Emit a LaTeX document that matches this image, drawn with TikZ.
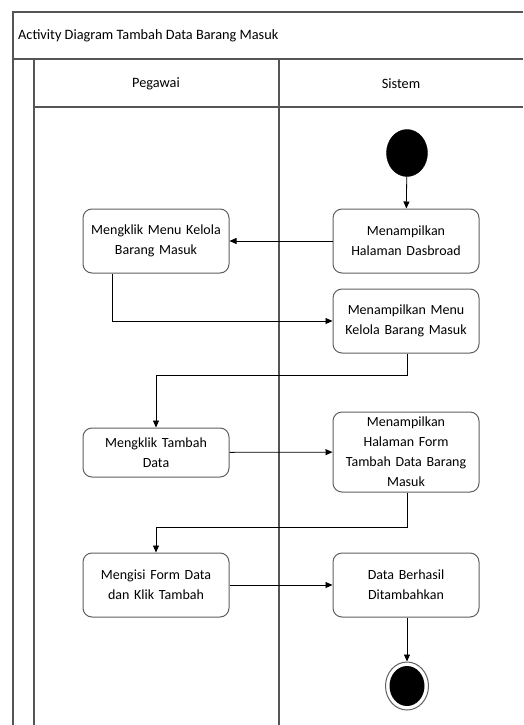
\documentclass[tikz,border=0pt]{standalone}
\usepackage{fontspec}
\setmainfont{Carlito}
\usetikzlibrary{arrows.meta,shapes.geometric}
\definecolor{frame}{HTML}{555555}
\definecolor{boxline}{HTML}{606060}
\begin{document}
\begin{tikzpicture}[x=1pt,y=-1pt,
  frameline/.style={draw=frame,line width=1.6pt},
  act/.style={draw=boxline,line width=1pt,rounded corners=9pt,minimum width=146pt,
    text width=142pt,align=center,font=\fontsize{14}{20}\selectfont,inner sep=2pt,fill=white},
  flow/.style={draw=black,line width=0.8pt,-{Triangle[length=7pt,width=6pt]}},
  lbl/.style={font=\fontsize{14.3}{16}\selectfont,inner sep=0pt}]
\useasboundingbox (0,0) rectangle (523,725);
\fill[white] (0,0) rectangle (523,725);
% frame
\draw[frameline] (523,12) -- (13,12) -- (13,725);
\draw[frameline] (13,59) -- (523,59);
\draw[frameline] (34,59) -- (34,725);
\draw[frameline] (34,107) -- (523,107);
\draw[frameline] (279,59) -- (279,725);
\node[lbl,anchor=west] (title) at (18,36) {Activity Diagram Tambah Data Barang Masuk};
\node[lbl] (pegawai) at (156,84) {Pegawai};
\node[lbl] (sistem) at (401,84) {Sistem};
% start
\node[draw=black,fill=black,ellipse,minimum width=41pt,minimum height=47pt,inner sep=0pt] (start) at (407,153) {};
% activities
\node[act,minimum height=64pt] (s1) at (406,241) {Menampilkan\\Halaman Dasbroad};
\node[act,minimum height=64pt] (p1) at (156,241) {Mengklik Menu Kelola\\Barang Masuk};
\node[act,minimum height=64pt] (s2) at (406,321) {Menampilkan Menu\\Kelola Barang Masuk};
\node[act,minimum height=49pt] (p2) at (156,452.5) {Mengklik Tambah\\Data};
\node[act,minimum height=80pt] (s3) at (406,452) {Menampilkan\\Halaman Form\\Tambah Data Barang\\Masuk};
\node[act,minimum height=64pt] (p3) at (156,585) {Mengisi Form Data\\dan Klik Tambah};
\node[act,minimum height=64pt] (s4) at (406,585) {Data Berhasil\\Ditambahkan};
% end
\node[draw=boxline,line width=1pt,ellipse,minimum width=43pt,minimum height=48pt,inner sep=0pt] (end) at (407,686) {};
\node[fill=black,ellipse,minimum width=35pt,minimum height=40pt,inner sep=0pt] (endin) at (407,686) {};
% flows
\draw[flow] (start) -- (s1);
\draw[flow] (s1) -- (p1);
\coordinate (c1) at (112,321);
\draw[flow] (p1.south -| c1) -- (c1) -- (s2.west);
\coordinate (c2) at (407,375);
\coordinate (c3) at (156,375);
\draw[flow] (s2.south -| c2) -- (c2) -- (c3) -- (p2.north);
\draw[flow] (p2) -- (s3);
\coordinate (c4) at (407,527);
\coordinate (c5) at (156,527);
\draw[flow] (s3.south -| c4) -- (c4) -- (c5) -- (p3.north);
\draw[flow] (p3) -- (s4);
\draw[flow] (s4.south -| end.north) -- (end.north);
\end{tikzpicture}
\end{document}
